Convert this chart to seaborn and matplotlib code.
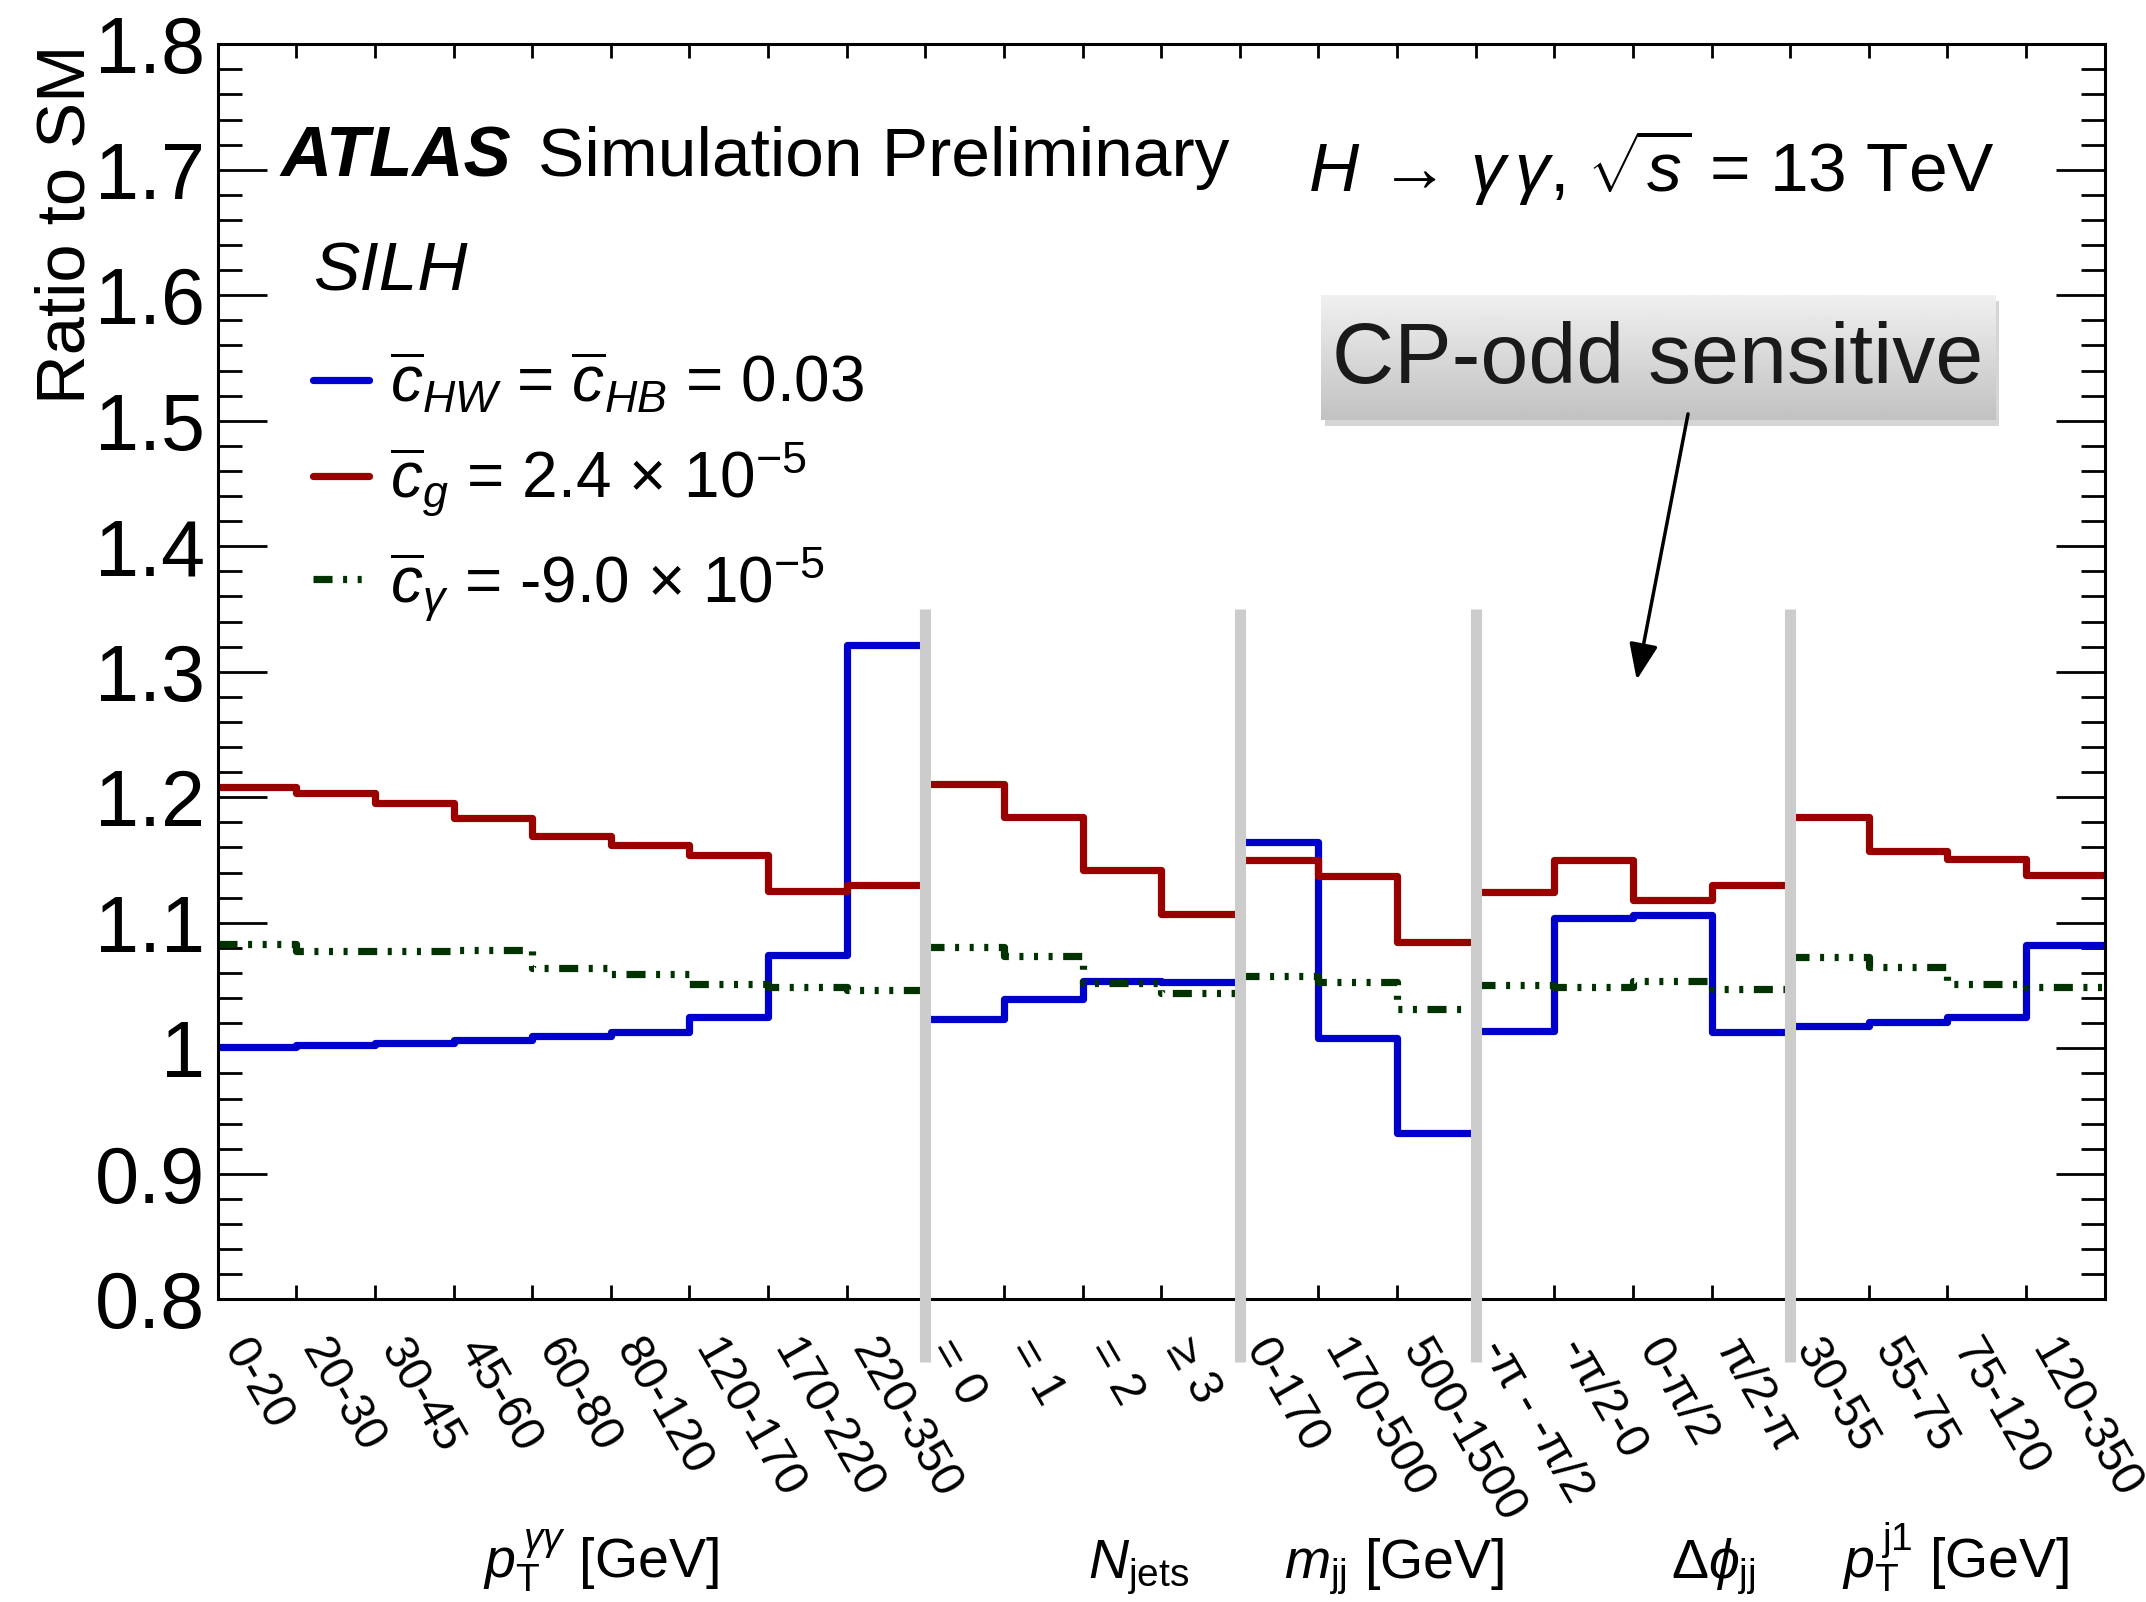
import numpy as np
import pandas as pd
import matplotlib
matplotlib.use("Agg")
import matplotlib.pyplot as plt
import seaborn as sns
from matplotlib.patches import Rectangle
from matplotlib.transforms import ScaledTranslation, blended_transform_factory

# ---------------- data ----------------
section_names = ["pTyy", "Njets", "mjj", "dphijj", "pTj1"]
section_nbins = [9, 4, 3, 4, 4]
section_titles = [r"$p_{\mathrm{T}}^{\,\gamma\gamma}$ [GeV]", r"$N_{\mathrm{jets}}$",
                  r"$m_{\mathrm{jj}}$ [GeV]", r"$\Delta\phi_{\mathrm{jj}}$",
                  r"$p_{\mathrm{T}}^{\,\mathrm{j1}}$ [GeV]"]
section_title_pos = [4.88, 11.71, 14.96, 19.02, 22.11]

bin_labels = ["0-20", "20-30", "30-45", "45-60", "60-80", "80-120", "120-170", "170-220", "220-350",
              "= 0", "= 1", "= 2", "≥ 3",
              "0-170", "170-500", "500-1500",
              "-π - -π/2", "-π/2-0", "0-π/2", "π/2-π",
              "30-55", "55-75", "75-120", "120-350"]

cHW_cHB = [1.001, 1.003, 1.0045, 1.0066, 1.0096, 1.0127, 1.0247, 1.0743, 1.321,
           1.0231, 1.0395, 1.0536, 1.0528,
           1.1646, 1.008, 0.9323,
           1.0138, 1.1036, 1.1065, 1.013,
           1.0178, 1.021, 1.0252, 1.0826]
cg = [1.208, 1.2034, 1.1957, 1.1833, 1.169, 1.162, 1.154, 1.125, 1.130,
      1.2106, 1.184, 1.1423, 1.1068,
      1.1503, 1.137, 1.0845,
      1.1248, 1.150, 1.118, 1.1304,
      1.1843, 1.1575, 1.151, 1.1383]
cgamma = [1.0829, 1.0775, 1.0775, 1.078, 1.064, 1.059, 1.051, 1.0486, 1.0467,
          1.0807, 1.0735, 1.0518, 1.0438,
          1.0576, 1.0526, 1.031,
          1.0504, 1.049, 1.0539, 1.047,
          1.073, 1.0645, 1.051, 1.049]

series_labels = [r"$\overline{c}_{HW}$ = $\overline{c}_{HB}$ = 0.03",
                 r"$\overline{c}_{g}$ = 2.4 × 10$^{-5}$",
                 r"$\overline{c}_{\gamma}$ = -9.0 × 10$^{-5}$"]
series_colors = ["#0000CC", "#990000", "#003300"]

# ---------------- style ----------------
sns.set_theme(style="ticks")
plt.rcParams["font.family"] = ["Liberation Sans", "DejaVu Sans"]
plt.rcParams["mathtext.fontset"] = "custom"
plt.rcParams["mathtext.rm"] = "Liberation Sans"
plt.rcParams["mathtext.it"] = "Liberation Sans:italic"
plt.rcParams["mathtext.bf"] = "Liberation Sans:bold"
plt.rcParams["lines.scale_dashes"] = False
plt.rcParams["axes.linewidth"] = 2.2
for k in ["text.color", "axes.labelcolor", "xtick.color", "ytick.color", "axes.edgecolor"]:
    plt.rcParams[k] = "black"

fig = plt.figure(figsize=(21.46, 16.02), dpi=100)
ax = fig.add_axes([0.10144, 0.18895, 0.87931, 0.78340])
ax.set_facecolor("white")

# long-form table of step edges
rows = []
start = 0
series_vals = {"cHW": cHW_cHB, "cg": cg, "cgamma": cgamma}
for sec, n in zip(section_names, section_nbins):
    for name, vals in series_vals.items():
        seg = vals[start:start + n]
        for k in range(n + 1):
            rows.append(dict(series=name, section=sec, edge=start + k, ratio=seg[min(k, n - 1)]))
    start += n
df = pd.DataFrame(rows)

green_dash = (0, (13.7, 7.6, 2.9, 7.6, 2.9, 7.6, 2.9, 7.6))
styles = {"cHW": dict(linestyle="-"), "cg": dict(linestyle="-"), "cgamma": dict(linestyle=green_dash)}
handles = []
for (name, col) in zip(series_vals.keys(), series_colors):
    n_before = len(ax.lines)
    sns.lineplot(data=df[df.series == name], x="edge", y="ratio", units="section",
                 estimator=None, drawstyle="steps-post", color=col, linewidth=5.2,
                 legend=False, ax=ax, **styles[name])
    handles.append(ax.lines[n_before])

# separators
bounds = np.cumsum(section_nbins)[:-1]
for b in bounds:
    ax.plot([b, b], [0.75, 1.35], color="#CCCCCC", lw=8, solid_capstyle="butt",
            clip_on=False, zorder=5)

ax.set_xlim(0, sum(section_nbins))
ax.set_ylim(0.8, 1.8)
ax.set_xlabel("")
ax.set_ylabel("")

# ticks
edges = np.arange(sum(section_nbins) + 1)
ax.set_xticks(edges)
ax.set_xticklabels([])
centers = edges[:-1] + 0.5
ax.set_xticks(centers, minor=True)
ax.set_xticklabels(bin_labels, minor=True, rotation=-60, ha="left", va="top",
                   rotation_mode="anchor", fontsize=34.5)
ax.set_yticks(np.arange(0.8, 1.81, 0.1))
ax.set_yticklabels(["0.8", "0.9", "1", "1.1", "1.2", "1.3", "1.4", "1.5", "1.6", "1.7", "1.8"], fontsize=57)
ax.set_yticks(np.arange(0.8, 1.8, 0.02), minor=True)
ax.tick_params(which="both", direction="in", top=True, right=True, color="black", labelcolor="black")
ax.tick_params(axis="y", which="major", length=35, width=2, pad=9)
ax.tick_params(axis="y", which="minor", length=17.5, width=2)
ax.tick_params(axis="x", which="major", length=10, width=2)
ax.tick_params(axis="x", which="minor", length=0, pad=23)
off = ScaledTranslation(-5 / 100, 0, fig.dpi_scale_trans)
for lab in ax.get_xticklabels(minor=True):
    lab.set_transform(lab.get_transform() + off)
for sp in ax.spines.values():
    sp.set_visible(True)
    sp.set_color("black")

ax.set_ylabel("Ratio to SM", fontsize=49.5, loc="top", color="black")
ax.yaxis.set_label_coords(-0.063, 1.0)

# section titles
bt = blended_transform_factory(ax.transData, ax.transAxes)
for t, xp in zip(section_titles, section_title_pos):
    ax.text(xp, -0.222, t, transform=bt, ha="center", va="baseline", fontsize=40)

# labels
ax.text(0.0335, 0.895, "ATLAS", transform=ax.transAxes, fontsize=51, fontweight="bold",
        fontstyle="italic", va="baseline")
ax.text(0.170, 0.895, "Simulation Preliminary", transform=ax.transAxes, fontsize=50, va="baseline")
ax.text(0.0505, 0.804, "SILH", transform=ax.transAxes, fontsize=50, fontstyle="italic", va="baseline")
ax.text(0.9419, 0.8823, r"$H\,\rightarrow\,\gamma\,\gamma$, $\sqrt{s}$ = 13 TeV", transform=ax.transAxes,
        fontsize=50, ha="right", va="baseline")

# legend
ax.legend(handles=handles, labels=series_labels, loc="upper left", bbox_to_anchor=(0.0505, 0.756),
          frameon=False, fontsize=46, handlelength=0.87, handletextpad=0.33, labelspacing=0.4,
          borderpad=0, borderaxespad=0)

# CP-odd box
x0, x1, y0, y1 = 0.5847, 0.9419, 0.7006, 0.8002
ax.add_patch(Rectangle((x0 + 0.002, y0 - 0.005), x1 - x0, y1 - y0, transform=ax.transAxes,
                       facecolor="#888888", alpha=0.35, edgecolor="none", zorder=6))
grad = np.linspace(0.94, 0.76, 64).reshape(-1, 1)
ax.imshow(grad, extent=[x0, x1, y0, y1], transform=ax.transAxes, aspect="auto", cmap="gray",
          vmin=0, vmax=1, zorder=7, origin="upper")
ax.text((x0 + x1) / 2, (y0 + y1) / 2 - 0.003, "CP-odd sensitive", transform=ax.transAxes, fontsize=62,
        ha="center", va="center", color="#1a1a1a", zorder=8)
ax.annotate("", xy=(0.752, 0.4936), xytext=(0.7792, 0.7055), xycoords="axes fraction",
            arrowprops=dict(arrowstyle="-|>,head_length=0.55,head_width=0.22", lw=2.5, color="black",
                            mutation_scale=40, shrinkA=0, shrinkB=0), zorder=8)

ax.set_xlim(0, sum(section_nbins))
ax.set_ylim(0.8, 1.8)

fig.savefig("out.png", dpi=100, facecolor="white")
